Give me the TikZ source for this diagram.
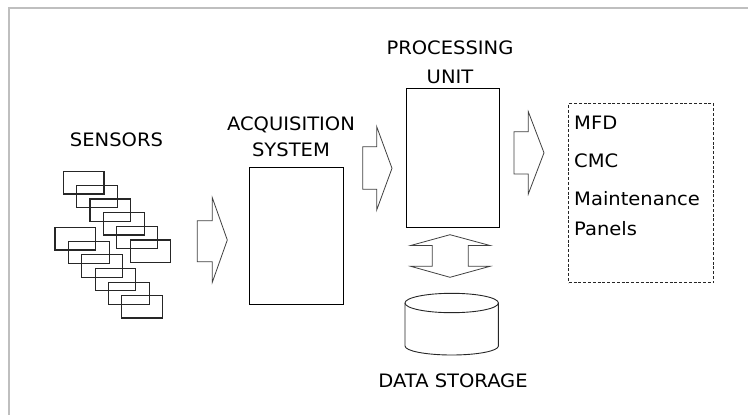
\documentclass[tikz,border=0pt]{standalone}
\usepackage{fontspec}
\setmainfont{DejaVu Sans}[FakeStretch=1.055]
\begin{document}
\begin{tikzpicture}[x=1pt,y=-1pt,
  lbl/.style={font=\fontsize{18.5}{22}\selectfont, inner sep=0pt},
  listlbl/.style={lbl, anchor=west},
  unitbox/.style={draw=black, line width=1pt, inner sep=0pt, anchor=north west},
  outbox/.style={draw=black!85, line width=0.9pt, dash pattern=on 3pt off 1.8pt, inner sep=0pt, anchor=north west},
  sensorbox/.style={draw=black!85, line width=1.1pt},
  blockarrow/.style={draw=black!75, line width=0.8pt, line join=miter},
  framing/.style={draw=black!25, line width=1.4pt}]
\useasboundingbox (0,0) rectangle (748,415);

% page frame
\draw[framing] (748,8) -- (9,8) -- (9,415);

% sensor array: two staggered stacks of small frames
\foreach \i in {0,...,5}{
  \draw[sensorbox] (63.3+13.35*\i,171.7+13.65*\i) rectangle ++(40.7,22.3);
  \draw[sensorbox] (55+13.35*\i,227.7+13.6*\i) rectangle ++(40.7,22.3);
}
\node[lbl] (sens) at (116.5,140) {SENSORS};

% acquisition system
\node[unitbox, minimum width=94pt, minimum height=137.3pt] (acq) at (249.3,166.7) {};
\node[lbl] (acqA) at (291,125) {ACQUISITION};
\node[lbl] (acqB) at (291,150) {SYSTEM};

% processing unit
\node[unitbox, minimum width=92.7pt, minimum height=138.4pt] (proc) at (406,88.3) {};
\node[lbl] (procA) at (450,48) {PROCESSING};
\node[lbl] (procB) at (450,77) {UNIT};

% outputs
\node[outbox, minimum width=145pt, minimum height=179pt] (out) at (568.3,103.3) {};
\node[listlbl] (mfd) at (574,122.3) {MFD};
\node[listlbl] (cmc) at (574,161) {CMC};
\node[listlbl] (mnt) at (574,199) {Maintenance};
\node[listlbl] (pnl) at (574,228.3) {Panels};

% data storage cylinder
\draw[line width=0.9pt, draw=black!85] (451.7,303) ellipse[x radius=46.7pt, y radius=9.7pt];
\draw[line width=0.9pt, draw=black!85] (405,303) -- (405,346)
  arc[start angle=180, end angle=360, x radius=46.7pt, y radius=9pt] -- (498.4,303);
\node[lbl] (store) at (453,381) {DATA STORAGE};

% block arrows
\draw[blockarrow] (197.3,220.7) -- (212.3,220.7) -- (212.3,197.7) -- (227.3,240)
  -- (212.3,282.3) -- (212.3,261.7) -- (197.3,261.7) -- cycle;
\draw[blockarrow] (362.7,146.7) -- (376.7,146.7) -- (376.7,126.7) -- (392,168.3)
  -- (376.7,210) -- (376.7,189.3) -- (362.7,189.3) -- cycle;
\draw[blockarrow] (514,131.7) -- (528.3,131.7) -- (528.3,111.7) -- (544,152.8)
  -- (528.3,194) -- (528.3,174) -- (514,174) -- cycle;
% two-way arrow between processing unit and storage
\draw[blockarrow] (450,234.7) -- (490,245.5) -- (468.3,245.5) -- (468.3,266.3)
  -- (490,266.3) -- (450,277.3) -- (410.7,266.3) -- (432.3,266.3)
  -- (432.3,245.5) -- (410.7,245.5) -- cycle;
\end{tikzpicture}
\end{document}
